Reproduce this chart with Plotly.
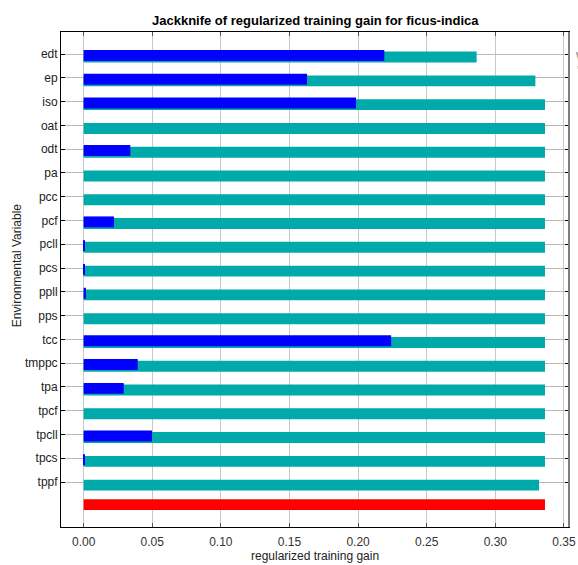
import plotly.graph_objects as go

variables = ["edt", "ep", "iso", "oat", "odt", "pa", "pcc", "pcf", "pcll", "pcs",
             "ppll", "pps", "tcc", "tmppc", "tpa", "tpcf", "tpcll", "tpcs", "tppf"]
without_var = [0.2864, 0.3292, 0.3362, 0.3362, 0.3362, 0.3362, 0.3362, 0.3362, 0.3362, 0.3362,
               0.3362, 0.3362, 0.3362, 0.3362, 0.3362, 0.3362, 0.3362, 0.3362, 0.3319]
only_var = [0.2191, 0.1628, 0.1985, 0.0, 0.0340, 0.0, 0.0, 0.0221, 0.0010, 0.0010,
            0.0017, 0.0, 0.2241, 0.0394, 0.0292, 0.0, 0.0498, 0.0010, 0.0]
all_vars = 0.3362
x_ticks = [0.00, 0.05, 0.10, 0.15, 0.20, 0.25, 0.30, 0.35]

TEAL = "#00AAAA"
BLUE = "#0000FF"
RED = "#FF0000"

n = len(variables)
idx = list(range(n))
bar_w = 0.46
teal_off = 0.13
blue_off = 0.06
red_off = -0.05

fig = go.Figure()
fig.add_trace(go.Bar(
    x=without_var, y=[i + teal_off for i in idx], orientation="h",
    width=bar_w, marker=dict(color=TEAL, line=dict(width=0)),
    name="Without variable", showlegend=False))
fig.add_trace(go.Bar(
    x=only_var, y=[i + blue_off for i in idx], orientation="h",
    width=bar_w, marker=dict(color=BLUE, line=dict(width=0)),
    name="With only variable", showlegend=False))
fig.add_trace(go.Bar(
    x=[all_vars], y=[n + red_off], orientation="h",
    width=bar_w, marker=dict(color=RED, line=dict(width=0)),
    name="With all variables", showlegend=False))

font_family = "Liberation Sans, Arial, sans-serif"

fig.update_layout(
    width=578, height=565,
    margin=dict(l=61, r=9, t=32, b=38, autoexpand=False),
    paper_bgcolor="white", plot_bgcolor="white",
    barmode="overlay",
    font=dict(family=font_family, size=12, color="#222222"),
    showlegend=False,
    hovermode=False,
)
fig.update_xaxes(
    range=[-0.0165, 0.3537], automargin=False,
    tickvals=x_ticks, ticktext=[f"{v:.2f}" for v in x_ticks],
    ticks="inside", ticklen=4, tickcolor="#555555", ticklabelstandoff=4,
    showline=True, linecolor="black", linewidth=1, mirror="ticks",
    showgrid=True, gridcolor="#c8c8c8", gridwidth=1, zeroline=False,
    tickfont=dict(size=12, color="#333333"),
)
fig.update_yaxes(
    range=[n + 0.89, -0.925], automargin=False,
    tickvals=idx, ticktext=variables,
    ticks="inside", ticklen=4, tickcolor="black",
    showline=True, linecolor="black", linewidth=1, mirror="ticks",
    showgrid=True, gridcolor="#b8b8b8", gridwidth=1, zeroline=False,
    tickfont=dict(size=12, color="#222222"),
)

# right frame drawn darker grey, as in the original
fig.add_shape(type="line", xref="paper", yref="paper", x0=1, x1=1, y0=0, y1=1,
              line=dict(color="#808080", width=2), layer="above")

fig.add_annotation(text="<b>Jackknife of regularized training gain for ficus-indica</b>",
                   xref="paper", yref="paper", x=0.5, y=1.024, xanchor="center", yanchor="middle",
                   showarrow=False, font=dict(size=13, color="black", family=font_family))
fig.add_annotation(text="regularized training gain",
                   xref="paper", yref="paper", x=0.5, y=-0.0586, xanchor="center", yanchor="middle",
                   showarrow=False, font=dict(size=12, color="#222222", family=font_family))
fig.add_annotation(text="Environmental Variable", textangle=-90,
                   xref="paper", yref="paper", x=-0.0866, y=0.529, xanchor="center", yanchor="middle",
                   showarrow=False, font=dict(size=12, color="#222222", family=font_family))
# legend, cut off at the right edge of the window as in the original
fig.add_annotation(text="Without variable",
                   xref="paper", yref="paper", x=1.0098, y=0.950, xanchor="left", yanchor="middle",
                   showarrow=False, font=dict(size=12, color="#808080", family=font_family))
fig.add_annotation(text="'ith only variable",
                   xref="paper", yref="paper", x=1.0118, y=0.922, xanchor="left", yanchor="middle",
                   showarrow=False, font=dict(size=12, color="#808080", family=font_family))

fig.write_html(
    "out.html",
    config={"displayModeBar": False, "responsive": False},
    post_script="document.body.style.margin='0';document.body.style.overflow='hidden';",
)
